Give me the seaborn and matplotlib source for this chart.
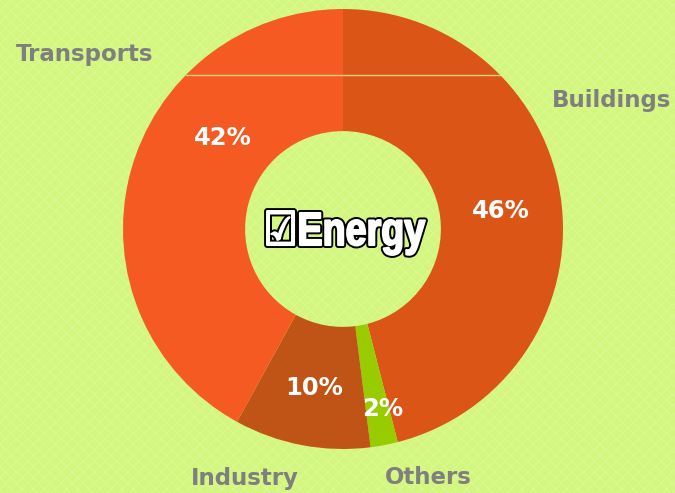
import matplotlib
matplotlib.use("Agg")
import matplotlib.pyplot as plt
from matplotlib.patches import Rectangle, PathPatch
from matplotlib.textpath import TextPath
from matplotlib.font_manager import FontProperties
from matplotlib.transforms import Affine2D
import seaborn as sns

sectors = ["Buildings", "Others", "Industry", "Transports"]
shares = [46, 2, 10, 42]
slice_colors = ["#DB5516", "#99CC00", "#C05316", "#F55A22"]
center_label = "\u2611Energy"

# label spots in pixel coords (x, y from top)
name_pos = {"Buildings": (612, 101), "Others": (428, 478),
            "Industry": (245, 478), "Transports": (85, 55)}
pct_pos = {"Buildings": (501, 211), "Others": (383, 409),
           "Industry": (314, 388), "Transports": (223, 138)}

sns.set_theme(style="white")
plt.rcParams["font.family"] = ["DejaVu Sans"]

W, H = 675, 493
fig = plt.figure(figsize=(W / 100, H / 100), dpi=100)
bg = "#D3F67E"
fig.patch.set_facecolor(bg)
ax = fig.add_axes([0, 0, 1, 1])
ax.set_facecolor(bg)

# faint texture on the background
ax.add_patch(Rectangle((0, 0), W, H, facecolor="none", edgecolor="#D9F890",
                       hatch="xxx", linewidth=0, zorder=0))

cx, cy, r = 343, H - 229, 220
pal = sns.color_palette(slice_colors)
wedges, _ = ax.pie(shares, colors=pal, startangle=90, counterclock=False,
                   center=(cx, cy), radius=r, frame=True,
                   wedgeprops=dict(width=r * 0.555, linewidth=0))
ax.set_xlim(0, W)
ax.set_ylim(0, H)
ax.set_aspect("equal")
ax.axis("off")

# thin pale chord near the top of the ring
yl = H - 75
dx = (r ** 2 - (yl - cy) ** 2) ** 0.5
ax.plot([cx - dx, cx + dx], [yl, yl], color="#F2D27A", lw=1, zorder=5)

for name, share in zip(sectors, shares):
    x, y = name_pos[name]
    ax.text(x, H - y, name, ha="center", va="center", fontsize=16.5,
            fontweight="bold", color="#7F7F7F")
    x, y = pct_pos[name]
    ax.text(x, H - y, f"{share}%", ha="center", va="center", fontsize=17.5,
            fontweight="bold", color="white", zorder=6)

# center title, squeezed horizontally like a narrow heavy font
fp = FontProperties(family=["Liberation Sans", "DejaVu Sans"], weight="bold")
tp = TextPath((0, 0), center_label, size=44, prop=fp)
bb = tp.get_extents()
sx = 158 / bb.width
sy = 34 / 32.0
tr = Affine2D().translate(-bb.x0 - bb.width / 2, -bb.y0 - bb.height / 2) \
    .scale(sx, sy).translate(cx + 3, H - 233)
title_path = tr.transform_path(tp)
ax.add_patch(PathPatch(title_path, facecolor="black", edgecolor="black",
                       lw=4.2, zorder=6, joinstyle="round"))
ax.add_patch(PathPatch(title_path, facecolor="white", edgecolor="white",
                       lw=1.4, zorder=7, joinstyle="round"))

fig.savefig("out.png", dpi=100, facecolor=bg)
